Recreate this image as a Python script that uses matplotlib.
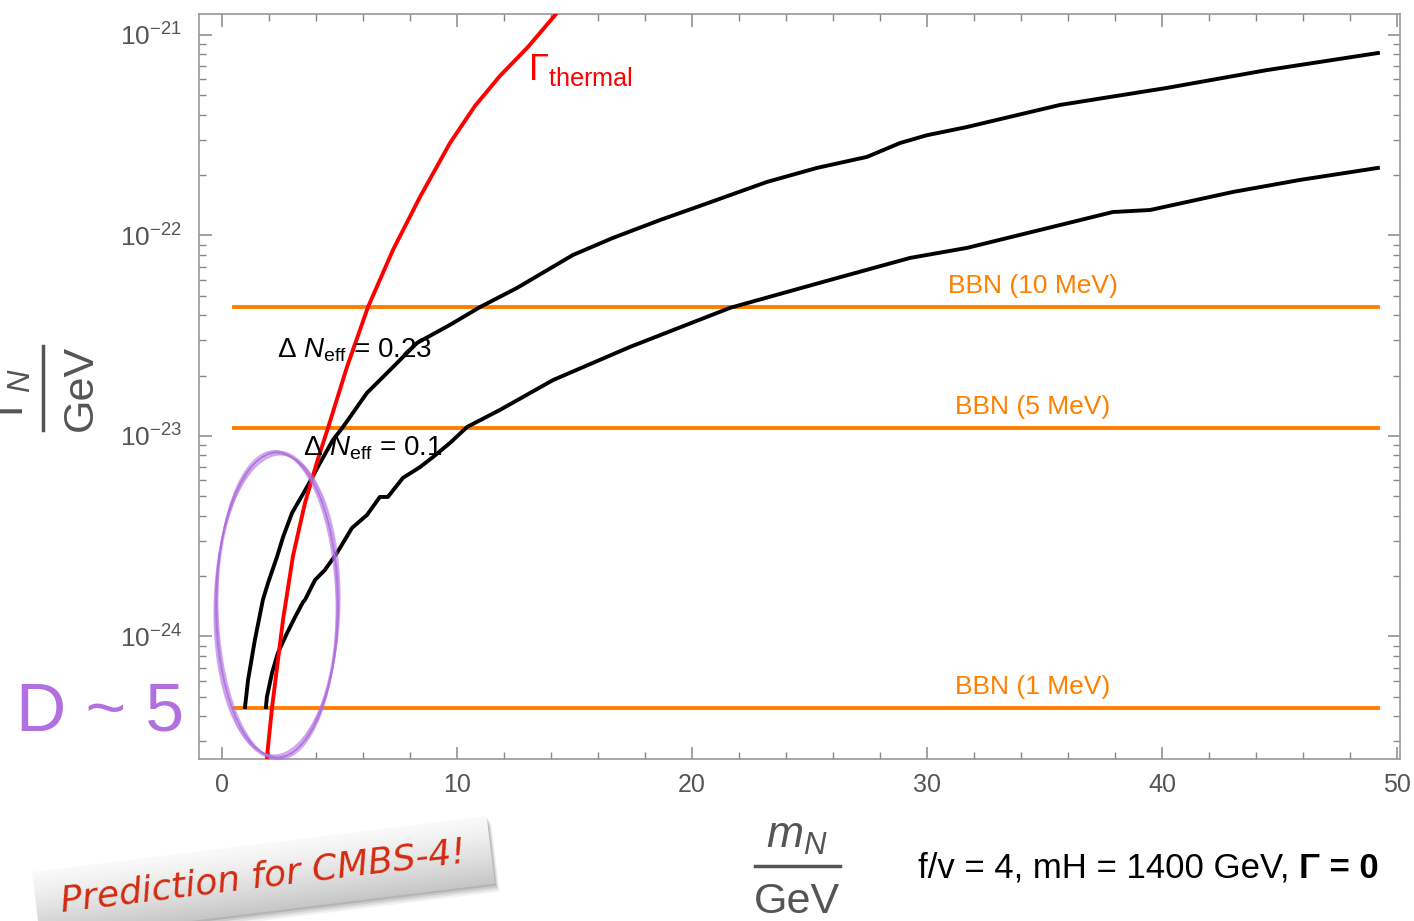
import numpy as np
import matplotlib.pyplot as plt
from matplotlib.patches import Ellipse, Polygon
from matplotlib.ticker import FixedLocator, LogLocator, NullFormatter, MultipleLocator

plt.rcParams['font.family'] = ['Liberation Sans', 'DejaVu Sans']
plt.rcParams['mathtext.fontset'] = 'custom'
plt.rcParams['mathtext.rm'] = 'Liberation Sans'
plt.rcParams['mathtext.it'] = 'Liberation Sans:italic'
plt.rcParams['mathtext.bf'] = 'Liberation Sans:bold'

# thermal rate (red)
m_thermal = [1.915, 2.128, 2.596, 3.021, 3.532, 4.043, 4.511, 5.319, 6.213,
             7.277, 8.426, 9.702, 10.766, 11.830, 13.021, 14.40]
log_gamma_thermal = [-24.601, -24.357, -23.918, -23.599, -23.334, -23.130,
                     -22.960, -22.656, -22.357, -22.072, -21.808, -21.539,
                     -21.354, -21.204, -21.060, -20.870]

# Delta N_eff = 0.23 contour
m_neff_023 = [0.98, 1.11, 1.40, 1.74, 1.96, 2.34, 2.60, 2.98, 3.62, 4.17, 4.72,
              5.15, 6.17, 7.28, 8.30, 9.70, 10.98, 12.55, 14.94, 16.64, 18.64,
              20.21, 23.19, 25.32, 27.45, 28.85, 30.00, 31.70, 35.66, 40.21,
              44.47, 49.19]
log_gamma_neff_023 = [-24.352, -24.217, -24.017, -23.818, -23.733, -23.603,
                      -23.504, -23.384, -23.254, -23.135, -23.020, -22.955,
                      -22.785, -22.656, -22.536, -22.446, -22.357, -22.262,
                      -22.097, -22.012, -21.923, -21.858, -21.733, -21.663,
                      -21.608, -21.539, -21.500, -21.459, -21.349, -21.264,
                      -21.175, -21.090]

# Delta N_eff = 0.1 contour
m_neff_01 = [1.87, 1.91, 2.13, 2.38, 2.77, 3.11, 3.45, 3.53, 3.96, 4.38, 4.89,
             5.53, 6.17, 6.72, 7.06, 7.70, 8.43, 8.98, 9.70, 10.43, 11.83,
             14.09, 17.36, 21.62, 25.87, 29.28, 31.70, 35.66, 37.91, 39.49,
             43.02, 45.87, 49.19]
log_gamma_neff_01 = [-24.352, -24.302, -24.182, -24.082, -23.983, -23.903,
                     -23.828, -23.818, -23.718, -23.668, -23.584, -23.459,
                     -23.394, -23.304, -23.304, -23.209, -23.155, -23.105,
                     -23.035, -22.955, -22.870, -22.721, -22.556, -22.361,
                     -22.222, -22.112, -22.062, -21.948, -21.883, -21.873,
                     -21.783, -21.723, -21.663]

bbn_labels = ['BBN (10 MeV)', 'BBN (5 MeV)', 'BBN (1 MeV)']
bbn_gamma = [4.4e-23, 1.1e-23, 4.4e-25]
bbn_m_range = [0.5, 49.2]
bbn_label_m = 34.5

y_major = [1e-24, 1e-23, 1e-22, 1e-21]

fig = plt.figure(figsize=(14.14, 9.21), dpi=100)
ax = fig.add_axes([0.1407, 0.1759, 0.8494, 0.8092])
ax.set_yscale('log')
ax.set_xlim(-0.98, 50.13)
ax.set_ylim(10 ** -24.611, 10 ** -20.894)

orange = '#FF8000'
for lab, g in zip(bbn_labels, bbn_gamma):
    ax.plot(bbn_m_range, [g, g], color=orange, lw=2.8, zorder=2)
    ax.annotate(lab, (bbn_label_m, g), xytext=(0, 15), textcoords='offset points',
                ha='center', va='center', color=orange, fontsize=19)

ax.plot(m_neff_023, 10 ** np.array(log_gamma_neff_023), color='black', lw=2.8,
        zorder=3, solid_joinstyle='round')
ax.plot(m_neff_01, 10 ** np.array(log_gamma_neff_01), color='black', lw=2.8,
        zorder=3, solid_joinstyle='round')
ax.plot(m_thermal, 10 ** np.array(log_gamma_thermal), color='#FF0000', lw=2.8,
        zorder=4, solid_joinstyle='round')

ax.text(13.02, 10 ** -21.224, r'$\Gamma_{\mathrm{thermal}}$', color='#FF0000',
        fontsize=26, ha='left', va='baseline')
ax.text(2.34, 10 ** -22.571, r'$\Delta\ N_{\mathrm{eff}}$ = 0.23', color='black',
        fontsize=20, ha='left', va='center', zorder=5)
ax.text(3.45, 10 ** -23.06, r'$\Delta\ N_{\mathrm{eff}}$ = 0.1', color='black',
        fontsize=20, ha='left', va='center', zorder=5)

# Mathematica-like frame and ticks
for sp in ax.spines.values():
    sp.set_color('#999999')
    sp.set_linewidth(1.2)
ax.xaxis.set_major_locator(MultipleLocator(10))
ax.xaxis.set_minor_locator(MultipleLocator(2))
ax.yaxis.set_major_locator(FixedLocator(y_major))
ax.yaxis.set_minor_locator(LogLocator(base=10, subs=np.arange(2, 10), numticks=20))
ax.yaxis.set_minor_formatter(NullFormatter())
ax.tick_params(which='both', direction='in', top=True, right=True,
               color='#888888', labelcolor='#555555')
ax.tick_params(which='major', length=9, width=1.1)
ax.tick_params(which='minor', length=5, width=1.0)
ax.tick_params(axis='x', labelsize=18, pad=10)
ax.tick_params(axis='y', labelsize=19, pad=12)

# overlay in pixel coordinates for the labels and annotations
ov = fig.add_axes([0, 0, 1, 1], zorder=10)
ov.set_xlim(0, 1414)
ov.set_ylim(921, 0)
ov.axis('off')

gray = '#555555'
ov.text(12, 392, r'$\Gamma_N$', rotation=90, fontsize=32, color=gray,
        ha='center', va='center')
ov.plot([43, 43], [346, 430], color=gray, lw=2.5)
ov.text(81, 388, 'GeV', rotation=90, fontsize=31, color=gray,
        ha='center', va='center')

ov.text(797, 836, r'$m_N$', fontsize=32, color=gray, ha='center', va='center')
ov.plot([755, 840], [866, 866], color=gray, lw=2.5)
ov.text(797, 902, 'GeV', fontsize=31, color=gray, ha='center', va='center')

t1 = ov.text(918, 868, 'f/v = 4, mH = 1400 GeV, ', fontsize=25, color='black',
             ha='left', va='center')
ov.annotate('Γ = 0', xy=(1, 0.5), xycoords=t1, fontsize=25, color='black',
            fontweight='bold', ha='left', va='center')

purple = '#B070E0'
ov.text(100, 712, 'D ~ 5', fontsize=50, color=purple, ha='center', va='center')
for dw, dh, ang, a in [(0, 0, 0, 0.9), (3, -4, 1.5, 0.6), (-3, 3, -1.0, 0.6),
                       (1, 2, 0.6, 0.5), (-2, -2, 0.3, 0.5)]:
    ov.add_patch(Ellipse((277, 605), 122 + dw, 305 + dh, angle=ang, fill=False,
                         edgecolor=purple, lw=1.4, alpha=a))

# sticky note
W, H, ang = 458, 68, np.deg2rad(7.0)
tl = np.array([32.0, 872.0])
u = np.array([np.cos(ang), -np.sin(ang)])
v = np.array([np.sin(ang), np.cos(ang)])
corners = np.array([tl, tl + W * u, tl + W * u + H * v, tl + H * v])
for k, a in [(8, 0.05), (6, 0.07), (4, 0.09), (2, 0.11)]:
    ov.add_patch(Polygon(corners + np.array([k * 0.6, k]), closed=True,
                         facecolor='black', edgecolor='none', alpha=a, zorder=0.2))
xs = np.linspace(corners[:, 0].min(), corners[:, 0].max(), 200)
ys = np.linspace(corners[:, 1].min(), corners[:, 1].max(), 120)
X, Y = np.meshgrid(xs, ys)
t = ((X - tl[0]) * v[0] + (Y - tl[1]) * v[1]) / H
grad = 0.975 - 0.20 * np.clip(t, 0, 1) ** 1.3
img = ov.imshow(grad, cmap='gray', vmin=0, vmax=1, origin='lower',
                extent=(xs[0], xs[-1], ys[0], ys[-1]), aspect='auto', zorder=0.5)
note = Polygon(corners, closed=True, facecolor='none', edgecolor='none')
ov.add_patch(note)
img.set_clip_path(note)
ov.set_xlim(0, 1414)
ov.set_ylim(921, 0)
ctr = tl + W / 2 * u + H / 2 * v
ov.text(ctr[0], ctr[1] - 1, 'Prediction for CMBS-4!', rotation=7, fontsize=26,
        color='#D42A10', ha='center', va='center', family='DejaVu Sans',
        style='italic', zorder=1)

fig.savefig('out.png', dpi=100)
